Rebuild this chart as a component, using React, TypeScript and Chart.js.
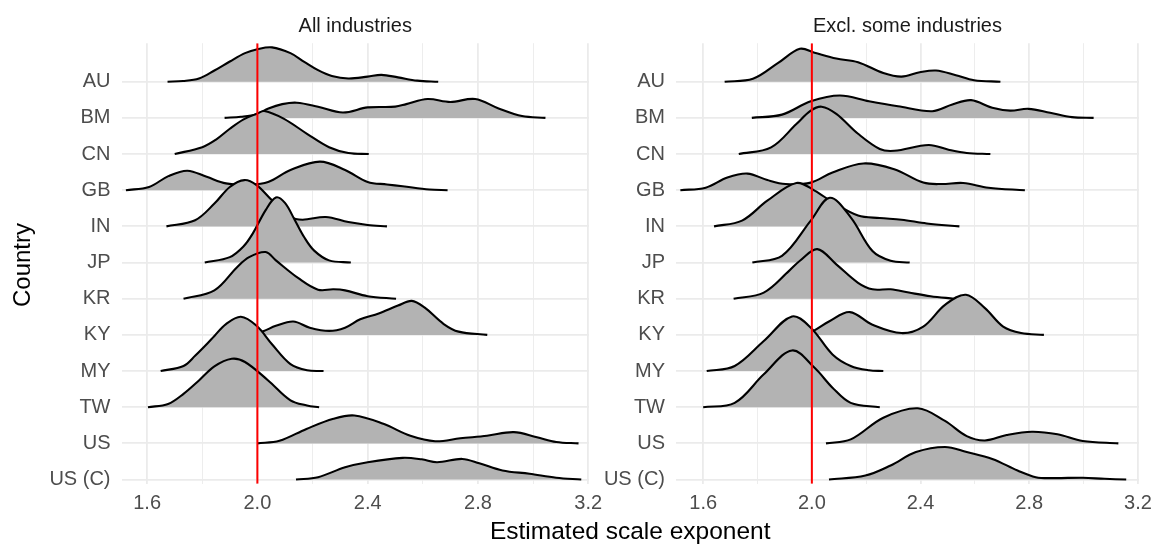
import React, { useEffect, useRef } from 'react';
import { Chart, registerables } from 'chart.js';

Chart.register(...registerables);

// ---------- data ----------
const COUNTRIES = ['AU', 'BM', 'CN', 'GB', 'IN', 'JP', 'KR', 'KY', 'MY', 'TW', 'US', 'US (C)'];
const PANEL_TITLES = ['All industries', 'Excl. some industries'];
const X_TICKS = [1.6, 1.8, 2.0, 2.2, 2.4, 2.6, 2.8, 3.0, 3.2];
const REF_X = 2.0;
const X_AXIS_TITLE = 'Estimated scale exponent';
const Y_AXIS_TITLE = 'Country';

// density ridges: [x, ridge height in row units]
const ALL_AU = [[1.674, 0], [1.73, 0.02], [1.788, 0.09], [1.844, 0.31], [1.9, 0.56], [1.955, 0.79], [2.0, 0.9], [2.053, 0.95], [2.12, 0.79], [2.17, 0.55], [2.22, 0.32], [2.27, 0.16], [2.33, 0.09], [2.4, 0.14], [2.45, 0.19], [2.51, 0.12], [2.58, 0.03], [2.656, 0]];
const ALL_BM = [[1.881, 0], [1.94, 0.03], [1.997, 0.1], [2.04, 0.26], [2.09, 0.38], [2.143, 0.42], [2.22, 0.31], [2.31, 0.15], [2.4, 0.29], [2.5, 0.31], [2.54, 0.38], [2.617, 0.52], [2.7, 0.44], [2.79, 0.52], [2.875, 0.26], [2.96, 0.05], [3.045, 0]];
const ALL_CN = [[1.7, 0], [1.8, 0.19], [1.85, 0.4], [1.9, 0.7], [1.95, 0.96], [2.0, 1.12], [2.025, 1.19], [2.095, 0.98], [2.18, 0.56], [2.26, 0.19], [2.33, 0.03], [2.404, 0]];
const ALL_GB = [[1.523, 0], [1.607, 0.09], [1.677, 0.39], [1.746, 0.54], [1.816, 0.37], [1.886, 0.19], [1.97, 0.16], [2.039, 0.23], [2.12, 0.56], [2.227, 0.79], [2.318, 0.56], [2.4, 0.23], [2.47, 0.16], [2.527, 0.11], [2.624, 0.02], [2.69, 0]];
const ALL_IN = [[1.67, 0], [1.774, 0.17], [1.844, 0.63], [1.9, 1.09], [1.953, 1.28], [1.997, 1.14], [2.053, 0.72], [2.12, 0.26], [2.164, 0.185], [2.248, 0.26], [2.33, 0.12], [2.4, 0.04], [2.47, 0]];
const ALL_JP = [[1.809, 0], [1.9, 0.15], [1.95, 0.45], [1.983, 0.8], [2.03, 1.45], [2.067, 1.8], [2.1, 1.65], [2.136, 1.17], [2.17, 0.7], [2.206, 0.33], [2.26, 0.06], [2.339, 0]];
const ALL_KR = [[1.732, 0], [1.844, 0.23], [1.927, 0.88], [1.97, 1.15], [2.03, 1.29], [2.067, 1.06], [2.15, 0.56], [2.22, 0.25], [2.276, 0.26], [2.318, 0.23], [2.4, 0.07], [2.503, 0]];
const ALL_KY = [[1.96, 0], [2.018, 0.09], [2.067, 0.25], [2.13, 0.37], [2.19, 0.2], [2.26, 0.11], [2.318, 0.2], [2.373, 0.43], [2.44, 0.59], [2.51, 0.81], [2.56, 0.94], [2.606, 0.76], [2.676, 0.3], [2.73, 0.09], [2.834, 0]];
const ALL_MY = [[1.649, 0], [1.732, 0.14], [1.774, 0.42], [1.816, 0.74], [1.844, 0.97], [1.886, 1.3], [1.94, 1.5], [1.997, 1.25], [2.053, 0.74], [2.12, 0.19], [2.18, 0.02], [2.24, 0]];
const ALL_TW = [[1.603, 0], [1.676, 0.09], [1.732, 0.37], [1.788, 0.74], [1.844, 1.13], [1.907, 1.34], [1.955, 1.25], [2.039, 0.74], [2.12, 0.19], [2.18, 0.05], [2.224, 0]];
const ALL_US = [[2.0, 0], [2.08, 0.07], [2.178, 0.4], [2.276, 0.68], [2.352, 0.77], [2.457, 0.54], [2.555, 0.21], [2.645, 0.06], [2.736, 0.14], [2.833, 0.21], [2.93, 0.31], [3.014, 0.17], [3.084, 0.04], [3.165, 0]];
const ALL_USC = [[2.14, 0], [2.22, 0.065], [2.318, 0.34], [2.4, 0.48], [2.527, 0.6], [2.596, 0.56], [2.652, 0.48], [2.743, 0.57], [2.805, 0.45], [2.889, 0.25], [2.987, 0.16], [3.084, 0.05], [3.175, 0]];

const EXCL_AU = [[1.679, 0], [1.783, 0.08], [1.876, 0.52], [1.956, 0.91], [2.01, 0.8], [2.09, 0.64], [2.17, 0.54], [2.263, 0.24], [2.33, 0.14], [2.397, 0.26], [2.457, 0.31], [2.53, 0.18], [2.597, 0.04], [2.694, 0]];
const EXCL_BM = [[1.779, 0], [1.89, 0.09], [1.996, 0.46], [2.103, 0.62], [2.21, 0.46], [2.317, 0.32], [2.443, 0.185], [2.517, 0.37], [2.586, 0.49], [2.664, 0.28], [2.73, 0.2], [2.797, 0.25], [2.877, 0.14], [2.957, 0.02], [3.037, 0]];
const EXCL_CN = [[1.731, 0], [1.85, 0.185], [1.943, 0.83], [1.996, 1.2], [2.036, 1.31], [2.09, 1.11], [2.17, 0.56], [2.25, 0.14], [2.303, 0.09], [2.43, 0.25], [2.503, 0.12], [2.57, 0.03], [2.657, 0]];
const EXCL_GB = [[1.516, 0], [1.609, 0.07], [1.689, 0.35], [1.763, 0.46], [1.836, 0.28], [1.903, 0.17], [1.996, 0.21], [2.076, 0.49], [2.19, 0.74], [2.303, 0.58], [2.41, 0.21], [2.477, 0.17], [2.557, 0.2], [2.65, 0.07], [2.784, 0]];
const EXCL_IN = [[1.64, 0], [1.743, 0.16], [1.836, 0.71], [1.943, 1.2], [2.01, 0.99], [2.076, 0.67], [2.17, 0.3], [2.25, 0.23], [2.33, 0.185], [2.423, 0.08], [2.543, 0]];
const EXCL_JP = [[1.781, 0], [1.89, 0.185], [1.996, 1.16], [2.066, 1.79], [2.143, 1.25], [2.223, 0.32], [2.29, 0.05], [2.36, 0]];
const EXCL_KR = [[1.712, 0], [1.823, 0.17], [1.916, 0.77], [1.956, 1.05], [2.02, 1.37], [2.09, 0.95], [2.17, 0.44], [2.223, 0.26], [2.29, 0.26], [2.357, 0.17], [2.437, 0.07], [2.523, 0]];
const EXCL_KY = [[1.96, 0], [2.006, 0.11], [2.063, 0.37], [2.14, 0.63], [2.223, 0.28], [2.33, 0.05], [2.41, 0.23], [2.49, 0.83], [2.567, 1.11], [2.637, 0.74], [2.704, 0.23], [2.77, 0.05], [2.854, 0]];
const EXCL_MY = [[1.613, 0], [1.716, 0.14], [1.823, 0.83], [1.927, 1.51], [1.996, 1.2], [2.076, 0.46], [2.143, 0.14], [2.21, 0.02], [2.263, 0]];
const EXCL_TW = [[1.6, 0], [1.716, 0.12], [1.823, 0.91], [1.927, 1.57], [2.01, 1.09], [2.076, 0.54], [2.143, 0.12], [2.25, 0]];
const EXCL_US = [[2.052, 0], [2.143, 0.11], [2.263, 0.71], [2.39, 0.97], [2.49, 0.62], [2.57, 0.2], [2.637, 0.08], [2.717, 0.23], [2.81, 0.32], [2.904, 0.25], [2.997, 0.065], [3.128, 0]];
const EXCL_USC = [[2.063, 0], [2.197, 0.11], [2.29, 0.39], [2.383, 0.76], [2.49, 0.9], [2.57, 0.76], [2.664, 0.57], [2.757, 0.25], [2.824, 0.065], [2.89, 0.04], [2.997, 0.05], [3.077, 0.02], [3.157, 0]];

const ALL_RIDGES = [ALL_AU, ALL_BM, ALL_CN, ALL_GB, ALL_IN, ALL_JP, ALL_KR, ALL_KY, ALL_MY, ALL_TW, ALL_US, ALL_USC];
const EXCL_RIDGES = [EXCL_AU, EXCL_BM, EXCL_CN, EXCL_GB, EXCL_IN, EXCL_JP, EXCL_KR, EXCL_KY, EXCL_MY, EXCL_TW, EXCL_US, EXCL_USC];

// ---------- styling / layout ----------
const FONT = '"Liberation Sans", Arial, Helvetica, sans-serif';
const Y_MIN = 0.885;
const Y_MAX = 13.065;
const PANEL_TOP = 43.2;
const PANEL_BOTTOM = 483.7;
const X_AXIS_H = 40;
const H = 544;

const textPlugin = {
  id: 'facetText',
  afterDraw(chart: any, _args: any, opts: any) {
    const { ctx, chartArea } = chart;
    ctx.save();
    ctx.fillStyle = '#1A1A1A';
    ctx.font = `20px ${FONT}`;
    ctx.textAlign = 'center';
    ctx.textBaseline = 'alphabetic';
    ctx.fillText(opts.title, (chartArea.left + chartArea.right) / 2, 31.7);
    if (opts.axisTitles) {
      ctx.fillStyle = '#000000';
      ctx.font = `24.5px ${FONT}`;
      ctx.fillText(X_AXIS_TITLE, 630.25, 538.5);
      ctx.font = `24px ${FONT}`;
      ctx.translate(30, 265);
      ctx.rotate(-Math.PI / 2);
      ctx.fillText(Y_AXIS_TITLE, 0, 0);
    }
    ctx.restore();
  },
};

function isMajor(v: number) {
  return Math.round(v * 10) % 4 === 0;
}

function makeConfig(ridges: number[][][], title: string, g: any): any {
  const n = COUNTRIES.length;
  const datasets: any[] = ridges.map((pts, i) => {
    const base = n - i;
    return {
      type: 'line',
      data: pts.map(([x, h]) => ({ x, y: base + h })),
      borderColor: '#000000',
      borderWidth: 2.1,
      backgroundColor: '#B3B3B3',
      fill: { value: base },
      pointRadius: 0,
      pointHoverRadius: 0,
      tension: 0.35,
      order: n - i + 1,
    };
  });
  datasets.push({
    type: 'line',
    data: [{ x: REF_X, y: Y_MIN }, { x: REF_X, y: Y_MAX }],
    borderColor: '#FF0000',
    borderWidth: 2,
    fill: false,
    pointRadius: 0,
    order: 0,
  });
  return {
    type: 'line',
    data: { datasets },
    plugins: [textPlugin],
    options: {
      responsive: false,
      maintainAspectRatio: false,
      devicePixelRatio: 1,
      animation: false,
      events: [],
      layout: {
        padding: { left: 0, top: PANEL_TOP, right: g.padRight, bottom: H - PANEL_BOTTOM - X_AXIS_H },
      },
      plugins: {
        legend: { display: false },
        tooltip: { enabled: false },
        facetText: { title, axisTitles: g.axisTitles },
      },
      scales: {
        x: {
          type: 'linear',
          min: g.xMin,
          max: g.xMax,
          afterBuildTicks: (s: any) => {
            s.ticks = X_TICKS.map((v) => ({ value: v }));
          },
          afterFit: (s: any) => {
            s.height = X_AXIS_H;
          },
          ticks: {
            autoSkip: false,
            maxRotation: 0,
            padding: 8,
            color: '#4D4D4D',
            font: { size: 20, family: FONT },
            callback: (v: any) => (isMajor(Number(v)) ? Number(v).toFixed(1) : ''),
          },
          grid: {
            color: '#EBEBEB',
            drawTicks: false,
            lineWidth: (c: any) => (c.tick && isMajor(c.tick.value) ? 1.8 : 0.9),
          },
          border: { display: false },
        },
        y: {
          type: 'linear',
          min: Y_MIN,
          max: Y_MAX,
          afterBuildTicks: (s: any) => {
            s.ticks = COUNTRIES.map((_, i) => ({ value: i + 1 }));
          },
          afterFit: (s: any) => {
            s.width = g.yWidth;
          },
          ticks: {
            autoSkip: false,
            padding: 11,
            color: '#4D4D4D',
            font: { size: 20, family: FONT },
            callback: (v: any) => COUNTRIES[COUNTRIES.length - Number(v)],
          },
          grid: { color: '#EBEBEB', lineWidth: 1.8, drawTicks: false },
          border: { display: false },
        },
      },
    },
  };
}

export default function App() {
  const leftRef = useRef<HTMLCanvasElement | null>(null);
  const rightRef = useRef<HTMLCanvasElement | null>(null);

  useEffect(() => {
    const a = new Chart(
      leftRef.current as HTMLCanvasElement,
      makeConfig(ALL_RIDGES, PANEL_TITLES[0], { xMin: 1.507, xMax: 3.203, padRight: 1152 - 589, yWidth: 121.5, axisTitles: true })
    );
    const b = new Chart(
      rightRef.current as HTMLCanvasElement,
      makeConfig(EXCL_RIDGES, PANEL_TITLES[1], { xMin: 1.5, xMax: 3.204, padRight: 600 - (1139 - 590), yWidth: 676 - 590, axisTitles: false })
    );
    return () => {
      a.destroy();
      b.destroy();
    };
  }, []);

  return (
    <div style={{ position: 'fixed', left: 0, top: 0, width: 1152, height: 544, overflow: 'hidden', background: '#ffffff' }}>
      <canvas ref={leftRef} width={1152} height={544} style={{ position: 'absolute', left: 0, top: 0, width: 1152, height: 544 }} />
      <canvas ref={rightRef} width={600} height={544} style={{ position: 'absolute', left: 590, top: 0, width: 600, height: 544 }} />
    </div>
  );
}
